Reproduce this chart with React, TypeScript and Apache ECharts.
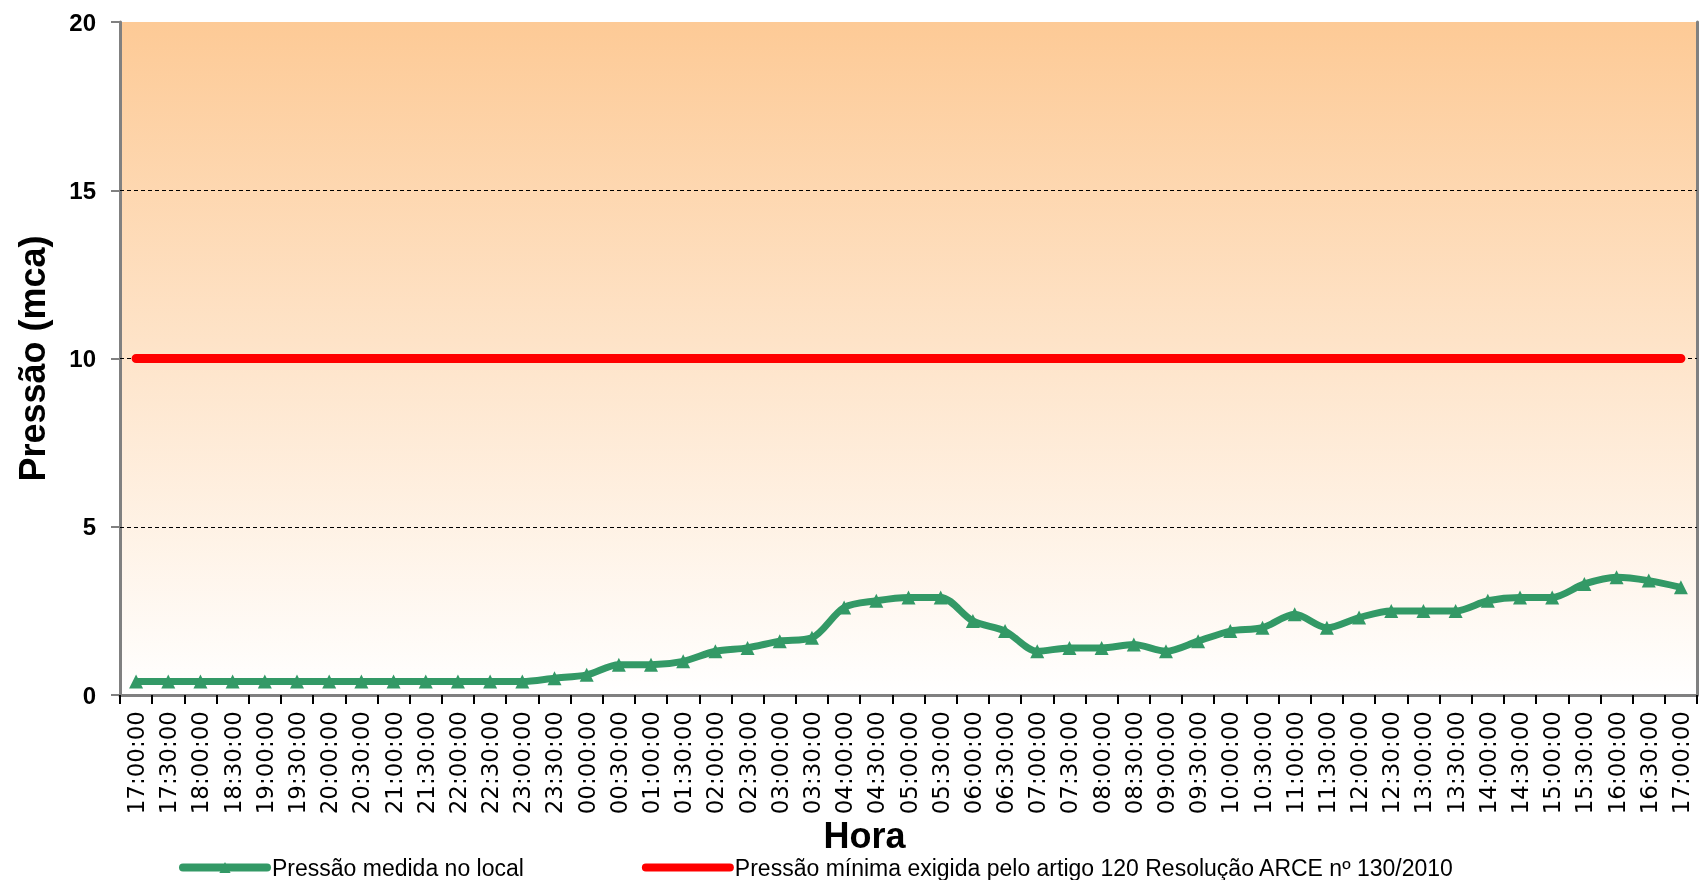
import React, { useEffect, useRef } from "react";
import * as echarts from "echarts";

const hours: string[] = [
  "17:00:00", "17:30:00", "18:00:00", "18:30:00", "19:00:00", "19:30:00", "20:00:00", "20:30:00",
  "21:00:00", "21:30:00", "22:00:00", "22:30:00", "23:00:00", "23:30:00", "00:00:00", "00:30:00",
  "01:00:00", "01:30:00", "02:00:00", "02:30:00", "03:00:00", "03:30:00", "04:00:00", "04:30:00",
  "05:00:00", "05:30:00", "06:00:00", "06:30:00", "07:00:00", "07:30:00", "08:00:00", "08:30:00",
  "09:00:00", "09:30:00", "10:00:00", "10:30:00", "11:00:00", "11:30:00", "12:00:00", "12:30:00",
  "13:00:00", "13:30:00", "14:00:00", "14:30:00", "15:00:00", "15:30:00", "16:00:00", "16:30:00",
  "17:00:00",
];

const measuredPressure: number[] = [
  0.4, 0.4, 0.4, 0.4, 0.4, 0.4, 0.4, 0.4, 0.4, 0.4, 0.4, 0.4, 0.4, 0.5, 0.6, 0.9,
  0.9, 1.0, 1.3, 1.4, 1.6, 1.7, 2.6, 2.8, 2.9, 2.9, 2.2, 1.9, 1.3, 1.4, 1.4, 1.5,
  1.3, 1.6, 1.9, 2.0, 2.4, 2.0, 2.3, 2.5, 2.5, 2.5, 2.8, 2.9, 2.9, 3.3, 3.5, 3.4,
  3.2,
];

const minimumPressureValue = 10;
const minimumPressure: number[] = hours.map(() => minimumPressureValue);

const seriesNames: string[] = [
  "Pressão medida no local",
  "Pressão mínima exigida pelo artigo 120 Resolução ARCE nº 130/2010",
];

const yMin = 0;
const yMax = 20;
const yInterval = 5;
const gridLineValues: number[] = [5, 10, 15];

export default function App() {
  const ref = useRef<HTMLDivElement>(null);

  useEffect(() => {
    if (!ref.current) return;
    const chart = echarts.init(ref.current, undefined, { renderer: "svg" });
    const font = "'Liberation Sans', Arial, sans-serif";
    chart.setOption({
      animation: false,
      textStyle: { fontFamily: font },
      grid: {
        left: 120,
        top: 22,
        right: 2,
        bottom: 185,
        show: true,
        borderWidth: 0,
        backgroundColor: new echarts.graphic.LinearGradient(0, 0, 0, 1, [
          { offset: 0, color: "#FDCA96" },
          { offset: 1, color: "#FFFFFF" },
        ]),
      },
      legend: {
        left: 179,
        top: 856,
        padding: 0,
        itemWidth: 84,
        itemHeight: 14,
        itemGap: 118,
        lineStyle: { width: 8, cap: "round" },
        textStyle: { fontSize: 23, color: "#000", fontFamily: font },
        data: [
          { name: seriesNames[0] },
          { name: seriesNames[1], itemStyle: { color: "rgba(0,0,0,0)" } },
        ],
      },
      xAxis: [
        {
          type: "category",
          data: hours,
          boundaryGap: true,
          name: "Hora",
          nameLocation: "middle",
          nameGap: 122,
          nameMoveOverlap: false,
          nameTextStyle: { fontSize: 36, fontWeight: "bold", color: "#000", padding: [0, 88, 0, 0] },
          axisLine: { show: true, lineStyle: { color: "#808080", width: 3 } },
          axisTick: { show: true, length: 9, interval: 0, lineStyle: { color: "#000", width: 2 } },
          axisLabel: {
            interval: 0,
            rotate: 90,
            fontSize: 23,
            color: "#000",
            margin: 16,
            fontFamily: "'DejaVu Sans', sans-serif",
          },
          splitLine: { show: false },
        },
        {
          type: "category",
          data: hours,
          position: "top",
          axisLine: { show: true, lineStyle: { color: "#808080", width: 3 } },
          axisTick: { show: false },
          axisLabel: { show: false },
          splitLine: { show: false },
        },
      ],
      yAxis: [
        {
          type: "value",
          min: yMin,
          max: yMax,
          interval: yInterval,
          name: "Pressão (mca)",
          nameLocation: "middle",
          nameGap: 70,
          nameTextStyle: { fontSize: 36, fontWeight: "bold", color: "#000" },
          axisLine: { show: true, lineStyle: { color: "#808080", width: 3 } },
          axisTick: { show: true, length: 9, lineStyle: { color: "#808080", width: 2 } },
          axisLabel: { fontSize: 24, fontWeight: "bold", color: "#000", margin: 24 },
          splitLine: { show: false },
        },
        {
          type: "value",
          min: yMin,
          max: yMax,
          interval: yInterval,
          position: "right",
          axisLine: { show: true, lineStyle: { color: "#808080", width: 3 } },
          axisTick: { show: false },
          axisLabel: { show: false },
          splitLine: { show: false },
        },
      ],
      series: [
        {
          name: "gridlines",
          type: "line",
          data: [],
          z: 1,
          silent: true,
          markLine: {
            silent: true,
            z: 1,
            symbol: "none",
            label: { show: false },
            lineStyle: { color: "#000", width: 1, type: [4, 3] },
            data: gridLineValues.map((v) => ({ yAxis: v })),
          },
        },
        {
          name: seriesNames[0],
          type: "line",
          data: measuredPressure,
          smooth: 0.3,
          symbol: "triangle",
          symbolSize: 14,
          z: 3,
          lineStyle: { color: "#339966", width: 7 },
          itemStyle: { color: "#339966" },
        },
        {
          name: seriesNames[1],
          type: "line",
          data: minimumPressure,
          symbol: "none",
          z: 2,
          lineStyle: { color: "#FF0000", width: 9, cap: "round" },
          itemStyle: { color: "#FF0000" },
        },
      ],
    });
    return () => chart.dispose();
  }, []);

  return (
    <div
      ref={ref}
      style={{ position: "fixed", left: 0, top: 0, width: 1699, height: 880 }}
    />
  );
}
